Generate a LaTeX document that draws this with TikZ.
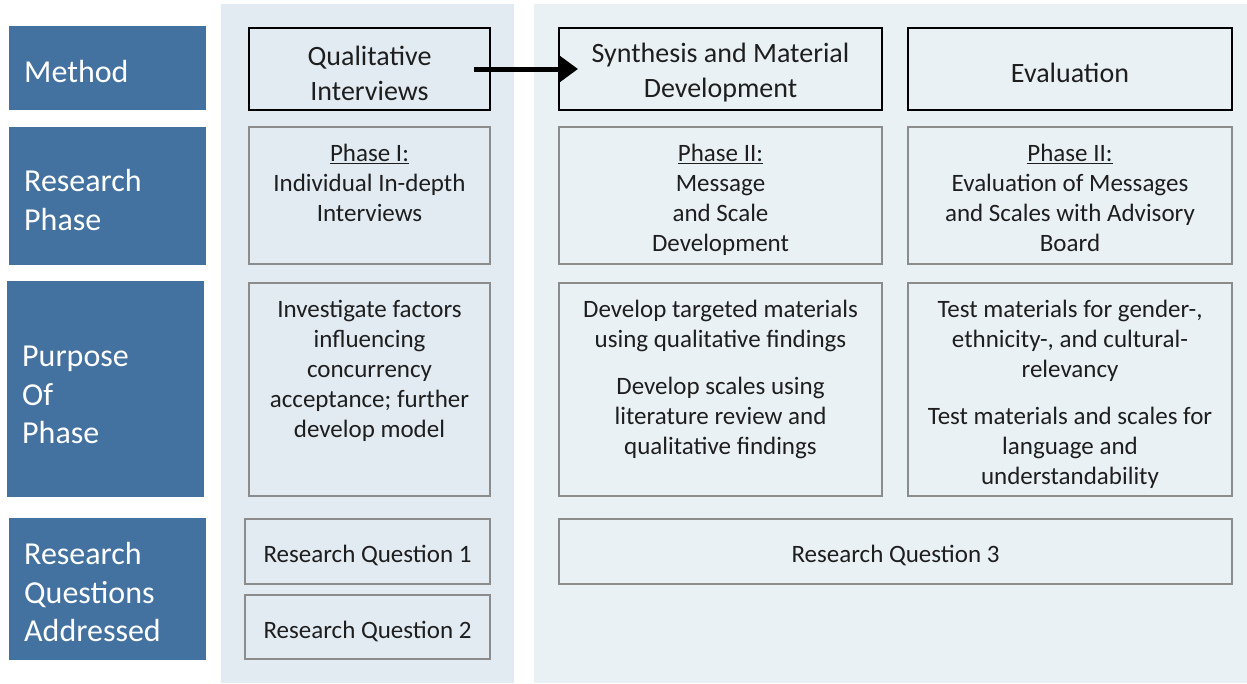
\documentclass[tikz,border=0pt]{standalone}
\usepackage{fontspec}
\setmainfont{Carlito}
\usetikzlibrary{arrows.meta}
\definecolor{lblue}{RGB}{68,114,160}
\definecolor{lpanel}{RGB}{226,234,242}
\definecolor{rpanel}{RGB}{234,241,245}
\definecolor{boxgray}{RGB}{140,140,140}
\definecolor{txtc}{RGB}{30,30,30}
\begin{document}
\begin{tikzpicture}[x=1pt,y=-1pt,
  lab/.style={fill=lblue, draw=none, inner sep=0pt, outer sep=0pt, anchor=north west},
  labtxt/.style={text=white, font=\fontsize{32}{38.5}\selectfont, align=left, anchor=west, inner sep=0pt},
  hbox/.style={draw=black, line width=2.5pt, inner sep=0pt, outer sep=0pt, anchor=north west},
  gbox/.style={draw=boxgray, line width=2pt, inner sep=0pt, outer sep=0pt, anchor=north west},
  htxt/.style={font=\fontsize{28}{35}\selectfont, align=center, text=txtc, inner sep=0pt},
  ctxt/.style={font=\fontsize{25}{30}\selectfont, align=center, text=txtc, inner sep=0pt},
  btxt/.style={font=\fontsize{25}{30}\selectfont, align=center, text=txtc, inner sep=0pt, anchor=north},
  arr/.style={line width=5pt, -{Triangle[length=18pt,width=25pt]}},
]
\useasboundingbox (0,0) rectangle (1247,683);
% panels
\fill[lpanel] (221,4) rectangle (514,683);
\fill[rpanel] (534,4) rectangle (1247,683);

% left labels
\node[lab, minimum width=197pt, minimum height=84pt] (lm) at (9,26) {};
\node[labtxt] (lmt) at ([xshift=15pt,yshift=-4pt]lm.west) {Method};
\node[lab, minimum width=197pt, minimum height=138pt] (lr) at (9,127) {};
\node[labtxt] (lrt) at ([xshift=15pt,yshift=-4pt]lr.west) {Research\\Phase};
\node[lab, minimum width=197pt, minimum height=216pt] (lp) at (7,281) {};
\node[labtxt] (lpt) at ([xshift=15pt,yshift=-6pt]lp.west) {Purpose\\Of\\Phase};
\node[lab, minimum width=197pt, minimum height=142pt] (lq) at (9,518) {};
\node[labtxt] (lqt) at ([xshift=15pt,yshift=-3pt]lq.west) {Research\\Questions\\Addressed};

% method row
\node[hbox, minimum width=241pt, minimum height=82pt] (qi) at (249,28) {};
\node[htxt] (qit) at ([yshift=-4pt]qi.center) {Qualitative\\Interviews};
\node[hbox, minimum width=323pt, minimum height=82pt] (syn) at (559,28) {};
\node[htxt] (synt) at ([yshift=-4pt]syn.center) {Synthesis and Material\\Development};
\node[hbox, minimum width=324pt, minimum height=82pt] (ev) at (908,28) {};
\node[htxt] (evt) at ([yshift=-4pt]ev.center) {Evaluation};

% research phase row
\node[gbox, minimum width=241pt, minimum height=137pt] (p1) at (249,127) {};
\node[btxt] (p1t) at ([yshift=-17pt]p1.north) {\underline{Phase I:}\\Individual In-depth\\Interviews};
\node[gbox, minimum width=323pt, minimum height=137pt] (p2) at (559,127) {};
\node[btxt] (p2t) at ([yshift=-17pt]p2.north) {\underline{Phase II:}\\Message\\and Scale\\Development};
\node[gbox, minimum width=324pt, minimum height=137pt] (p3) at (908,127) {};
\node[btxt] (p3t) at ([yshift=-17pt]p3.north) {\underline{Phase II:}\\Evaluation of Messages\\and Scales with Advisory\\Board};

% purpose row
\node[gbox, minimum width=241pt, minimum height=213pt] (u1) at (249,283) {};
\node[btxt] (u1t) at ([yshift=-17pt]u1.north) {Investigate factors\\influencing\\concurrency\\acceptance; further\\develop model};
\node[gbox, minimum width=323pt, minimum height=213pt] (u2) at (559,283) {};
\node[btxt] (u2t) at ([yshift=-17pt]u2.north) {Develop targeted materials\\using qualitative findings\\[17pt]Develop scales using\\literature review and\\qualitative findings};
\node[gbox, minimum width=324pt, minimum height=213pt] (u3) at (908,283) {};
\node[btxt] (u3t) at ([yshift=-17pt]u3.north) {Test materials for gender-,\\ethnicity-, and cultural-\\relevancy\\[17pt]Test materials and scales for\\language and\\understandability};

% research questions
\node[gbox, minimum width=245pt, minimum height=65pt] (rq1) at (245,519) {};
\node[ctxt] (rq1t) at ([yshift=-4pt]rq1.center) {Research Question 1};
\node[gbox, minimum width=245pt, minimum height=64pt] (rq2) at (245,595) {};
\node[ctxt] (rq2t) at ([yshift=-4pt]rq2.center) {Research Question 2};
\node[gbox, minimum width=673pt, minimum height=65pt] (rq3) at (559,519) {};
\node[ctxt] (rq3t) at ([yshift=-4pt]rq3.center) {Research Question 3};

% arrow
\draw[arr] ([xshift=-16pt]qi.east) -- ([xshift=19pt]syn.west);
\end{tikzpicture}
\end{document}
